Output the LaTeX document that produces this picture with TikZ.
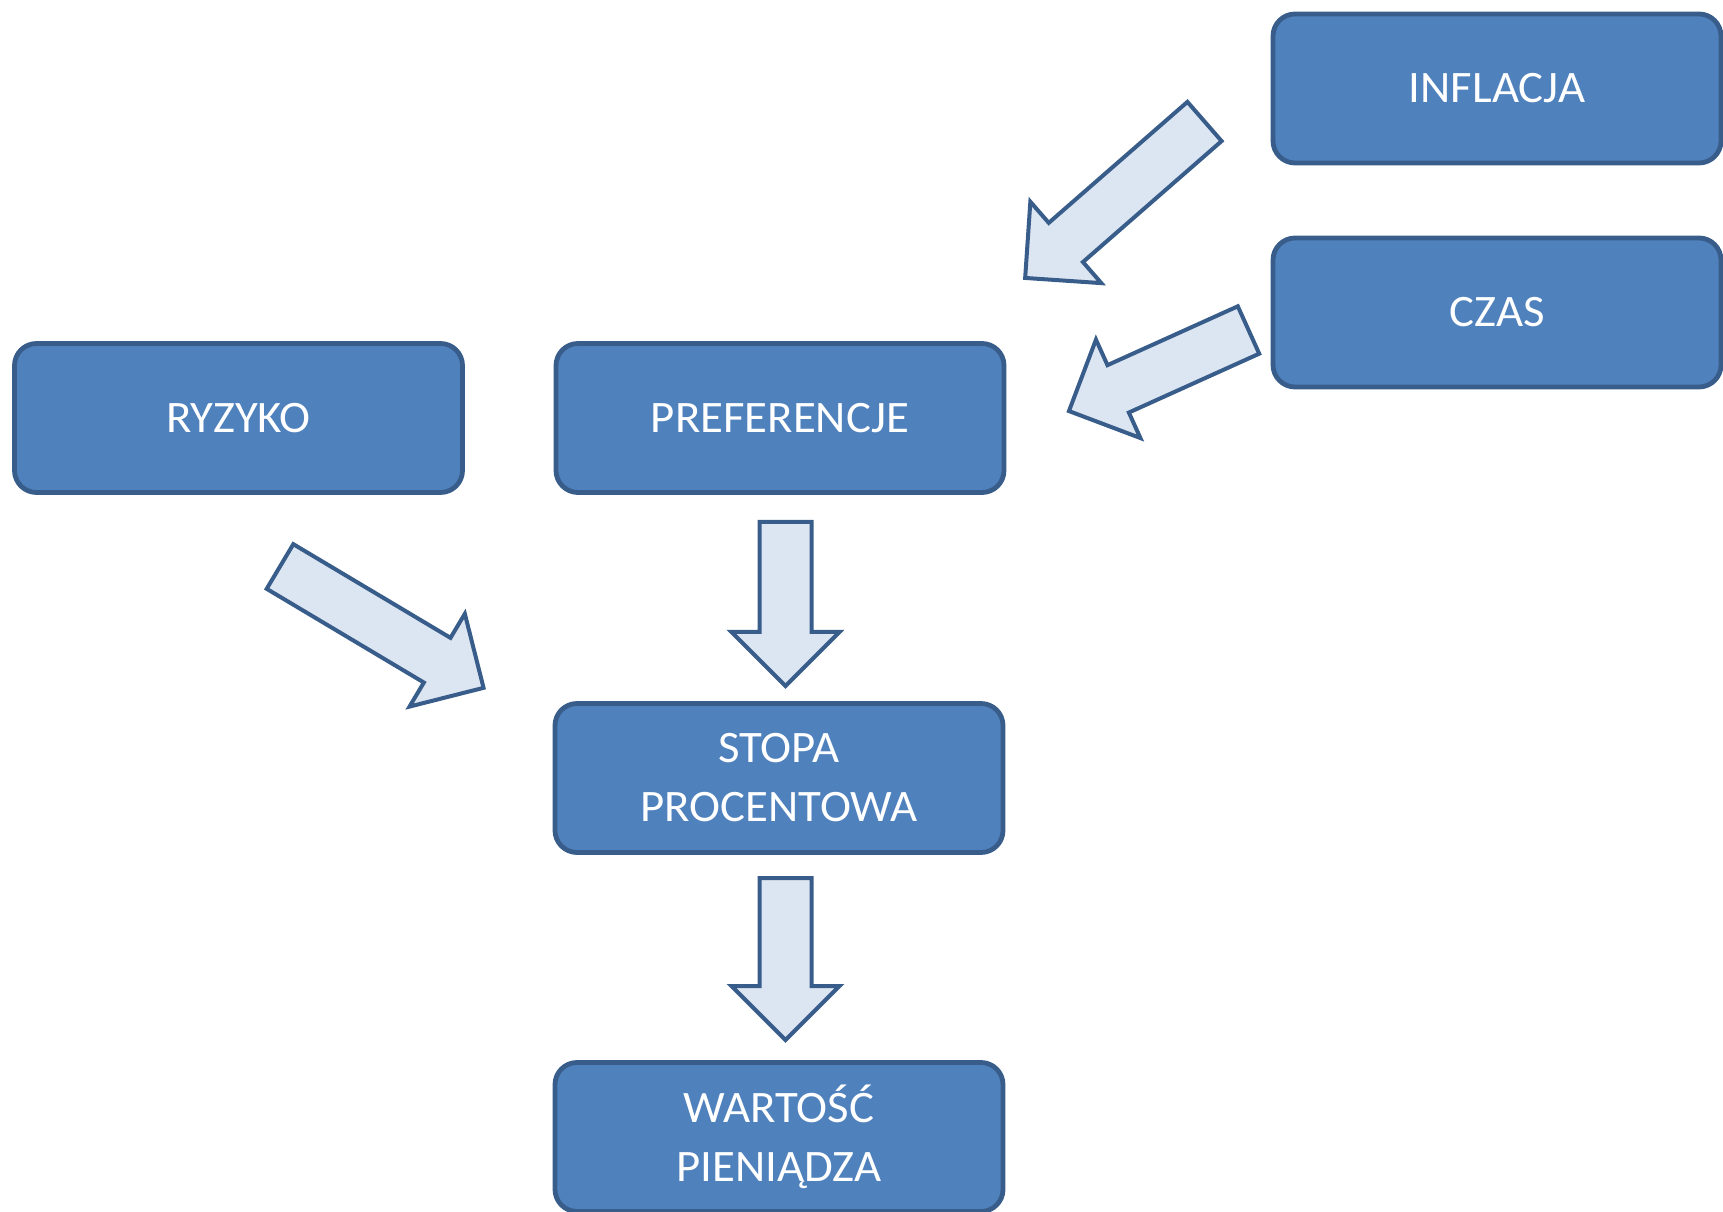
\documentclass[tikz,border=0pt]{standalone}
\usepackage{fontspec}
\setmainfont{Carlito}[FakeStretch=1.04]
\usepackage{xcolor}
\usepackage{tikz}

\definecolor{boxblue}{HTML}{4F81BD}
\definecolor{boxedge}{HTML}{385D8A}
\definecolor{arrowfill}{HTML}{DCE6F2}

\tikzset{
  factor/.style={draw=boxedge, fill=boxblue, line width=2.4pt, rounded corners=11pt,
    minimum width=224pt, minimum height=74.5pt, text=white, align=center,
    font=\fontsize{22.5}{29.5}\selectfont},
  fatarrow/.style={draw=boxedge, fill=arrowfill, line width=2pt}
}

% block arrow: tail point, direction, length
\newcommand{\flowarrow}[3]{%
  \begin{scope}[shift={(#1)}, rotate=#2]
    \draw[fatarrow] (0,26) -- ({#3-54},26) -- ({#3-54},54) -- (#3,0)
      -- ({#3-54},-54) -- ({#3-54},-26) -- (0,-26) -- cycle;
  \end{scope}}

\begin{document}
\begin{tikzpicture}[x=0.5pt, y=0.5pt]
\useasboundingbox (0,0) rectangle (1723,1211);

% Draw the factor boxes
\node[factor] (inflacja) at (1497,1122.5) {INFLACJA};
\node[factor] (czas) at (1497,898.5) {CZAS};
\node[factor] (ryzyko) at (238.5,793) {RYZYKO};
\node[factor] (pref) at (780,793) {PREFERENCJE};
\node[factor] (stopa) at (779,433) {STOPA\\PROCENTOWA};
\node[factor] (wartosc) at (779,74) {WARTOŚĆ\\PIENIĄDZA};

% Tails of the block arrows
\coordinate (infl tail) at (1204.5,1089.5);
\coordinate (czas tail) at (1248.5,881);
\coordinate (ryz tail) at (280,644.5);
\coordinate (pref tail) at (785.5,689);
\coordinate (stopa tail) at (785.5,333);

% Draw the block arrows
\flowarrow{infl tail}{221.1}{238}
\flowarrow{czas tail}{204.3}{197}
\flowarrow{ryz tail}{-30.8}{237}
\flowarrow{pref tail}{-90}{164}
\flowarrow{stopa tail}{-90}{162}
\end{tikzpicture}
\end{document}
